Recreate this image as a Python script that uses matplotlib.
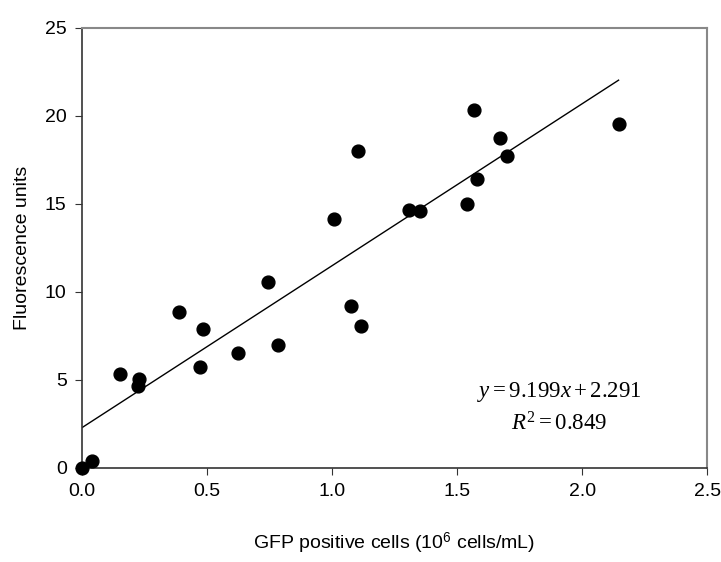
import matplotlib
matplotlib.use('Agg')
import matplotlib.pyplot as plt
import numpy as np

# GFP positive cells (10^6 cells/mL) vs fluorescence units
gfp_cells = [0.0, 0.039, 0.151, 0.230, 0.224, 0.388, 0.483, 0.474, 0.625, 0.744, 0.783,
             1.009, 1.076, 1.103, 1.115, 1.308, 1.353, 1.541, 1.568, 1.580, 1.670, 1.699, 2.146]
fluorescence = [0.0, 0.42, 5.32, 5.04, 4.66, 8.84, 7.87, 5.76, 6.56, 10.55, 6.98,
                14.14, 9.20, 17.98, 8.04, 14.68, 14.60, 14.98, 20.36, 16.41, 18.73, 17.70, 19.54]

slope = 9.199
intercept = 2.291
r_squared = 0.849

x_ticks = [0.0, 0.5, 1.0, 1.5, 2.0, 2.5]
y_ticks = [0, 5, 10, 15, 20, 25]

plt.rcParams['font.family'] = 'Liberation Sans'
plt.rcParams['mathtext.fontset'] = 'custom'
plt.rcParams['mathtext.rm'] = 'Liberation Serif'
plt.rcParams['mathtext.it'] = 'Liberation Serif:italic'
plt.rcParams['mathtext.sf'] = 'Liberation Sans'

fig = plt.figure(figsize=(7.21, 5.62), dpi=100)
ax = fig.add_axes([0.1137, 0.1673, 0.867, 0.783])

ax.scatter(gfp_cells, fluorescence, s=85, color='black', zorder=3, clip_on=False)

# regression line
x_fit = np.array([0.0, max(gfp_cells)])
ax.plot(x_fit, slope * x_fit + intercept, color='black', linewidth=1.0)

ax.text(1.91, 4.3, r'$y = %.3fx + %.3f$' % (slope, intercept), fontsize=16.5,
        ha='center', va='center')
ax.text(1.91, 2.5, r'$R^2 = %.3f$' % r_squared, fontsize=16.5, ha='center', va='center')

ax.set_xlim(0, 2.5)
ax.set_ylim(0, 25)
ax.set_xticks(x_ticks)
ax.set_xticklabels(['%.1f' % v for v in x_ticks])
ax.set_yticks(y_ticks)
ax.tick_params(direction='out', labelsize=14, length=5, color='#333333', pad=6)

ax.set_xlabel(r'GFP positive cells (10$^{\mathsf{6}}$ cells/mL)', fontsize=14, labelpad=22)
ax.set_ylabel('Fluorescence units', fontsize=14, labelpad=10)

for side in ['left', 'bottom']:
    ax.spines[side].set_color('#333333')
    ax.spines[side].set_linewidth(1.2)
for side in ['top', 'right']:
    ax.spines[side].set_color('#888888')
    ax.spines[side].set_linewidth(1.5)

fig.savefig('out.png', dpi=100)
